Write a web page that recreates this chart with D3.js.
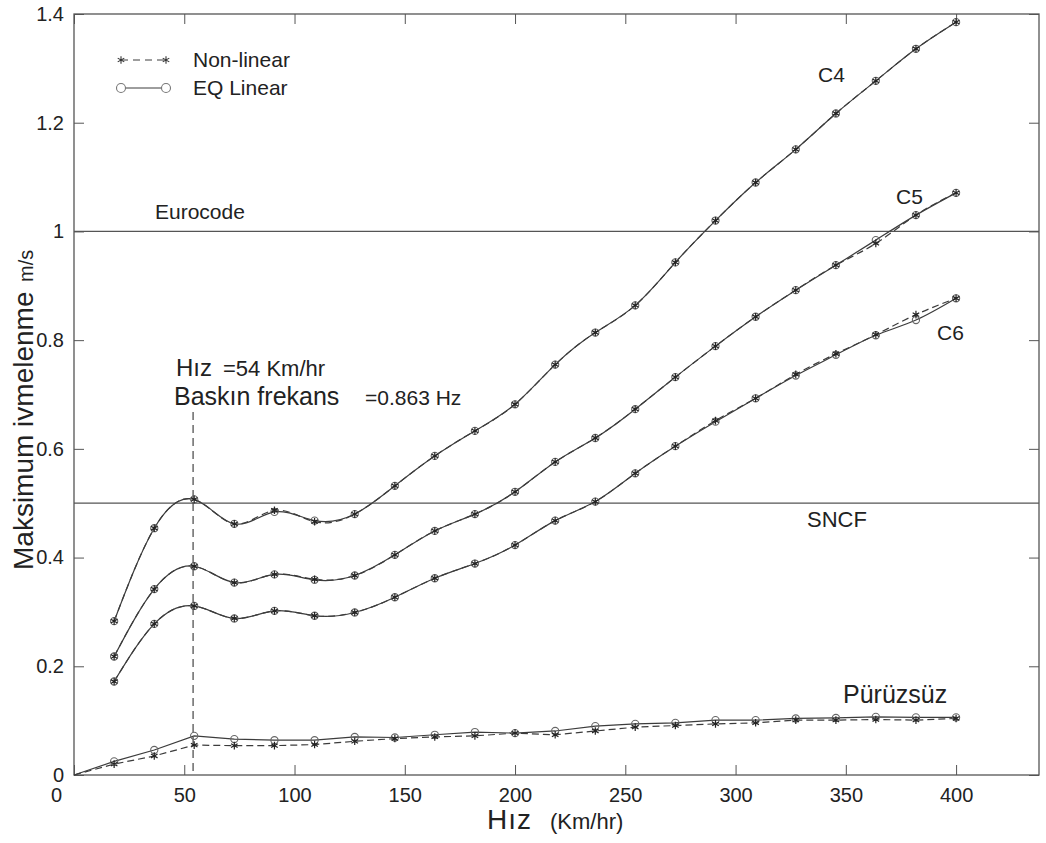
<!DOCTYPE html>
<html>
<head>
<meta charset="utf-8">
<script src="https://cdn.jsdelivr.net/npm/d3@7"></script>
<style>
    body { margin: 0; background: #fff; }
    svg text { font-family: "Liberation Sans", Arial, sans-serif; fill: #222; }
</style>
</head>
<body>
<svg id="chart" width="1046" height="843"></svg>
<script>
/* Data */
/* **** */
var speeds = [18.2, 36.4, 54.5, 72.7, 90.9, 109.1, 127.3, 145.5, 163.6, 181.8, 200,
              218.2, 236.4, 254.5, 272.7, 290.9, 309.1, 327.3, 345.5, 363.6, 381.8, 400];

var c4Linear    = [0.283, 0.454, 0.507, 0.462, 0.484, 0.468, 0.480, 0.532, 0.587, 0.633, 0.682,
                   0.755, 0.814, 0.864, 0.943, 1.020, 1.090, 1.151, 1.217, 1.277, 1.336, 1.385];
var c4NonLinear = [0.283, 0.454, 0.507, 0.462, 0.487, 0.466, 0.480, 0.532, 0.587, 0.633, 0.682,
                   0.755, 0.814, 0.864, 0.943, 1.020, 1.090, 1.151, 1.217, 1.277, 1.336, 1.385];

var c5Linear    = [0.218, 0.342, 0.384, 0.354, 0.369, 0.359, 0.367, 0.405, 0.449, 0.480, 0.521,
                   0.576, 0.620, 0.673, 0.732, 0.789, 0.843, 0.892, 0.938, 0.984, 1.030, 1.071];
var c5NonLinear = [0.218, 0.342, 0.384, 0.354, 0.369, 0.360, 0.367, 0.405, 0.449, 0.480, 0.521,
                   0.576, 0.620, 0.673, 0.732, 0.789, 0.843, 0.892, 0.938, 0.978, 1.030, 1.071];

var c6Linear    = [0.172, 0.278, 0.311, 0.288, 0.302, 0.293, 0.299, 0.327, 0.362, 0.389, 0.423,
                   0.468, 0.503, 0.555, 0.605, 0.650, 0.693, 0.735, 0.773, 0.809, 0.837, 0.877];
var c6NonLinear = [0.172, 0.278, 0.311, 0.288, 0.302, 0.293, 0.299, 0.327, 0.362, 0.389, 0.423,
                   0.468, 0.503, 0.555, 0.605, 0.652, 0.693, 0.737, 0.775, 0.810, 0.847, 0.877];

// smooth track (Pürüzsüz) starts at the origin
var smoothSpeeds    = [0, 18.2, 36.4, 54.5, 72.7, 90.9, 109.1, 127.3, 145.5, 163.6, 181.8, 200,
                       218.2, 236.4, 254.5, 272.7, 290.9, 309.1, 327.3, 345.5, 363.6, 381.8, 400];
var smoothLinear    = [0, 0.025, 0.046, 0.072, 0.066, 0.064, 0.064, 0.070, 0.069, 0.074, 0.079, 0.077,
                       0.081, 0.090, 0.094, 0.096, 0.101, 0.101, 0.104, 0.105, 0.107, 0.106, 0.106];
var smoothNonLinear = [0, 0.020, 0.035, 0.055, 0.054, 0.054, 0.056, 0.062, 0.067, 0.070, 0.072, 0.077,
                       0.074, 0.081, 0.088, 0.091, 0.094, 0.096, 0.101, 0.101, 0.102, 0.101, 0.104];

var limitNames  = ['Eurocode', 'SNCF'];
var limitValues = [1.0, 0.5];

var xTicks = [0, 50, 100, 150, 200, 250, 300, 350, 400];
var yTicks = [0, 0.2, 0.4, 0.6, 0.8, 1, 1.2, 1.4];

var resonanceSpeed = 54;


/* Setup */
/* ***** */
var svg = d3.select('#chart');
var box = { left: 74, right: 1039, top: 14, bottom: 775 };
var lineColor = '#3c3c3c';

var x = d3.scaleLinear().domain([0, 437.6]).range([box.left, box.right]);
var y = d3.scaleLinear().domain([0, 1.4]).range([box.bottom, box.top]);

var fmt = function (d) { return d3.format('~g')(d); };

// Axes with inward ticks (box style)
var xAxisG = svg.append('g')
    .attr('transform', 'translate(0,' + box.bottom + ')')
    .call(d3.axisBottom(x).tickValues(xTicks).tickSize(-10).tickPadding(13).tickFormat(fmt))
    .call(function (g) { g.select('.domain').remove(); });

svg.append('g')
    .attr('transform', 'translate(0,' + box.top + ')')
    .call(d3.axisTop(x).tickValues(xTicks).tickSize(-10).tickFormat(''))
    .call(function (g) { g.select('.domain').remove(); });

svg.append('g')
    .attr('transform', 'translate(' + box.left + ',0)')
    .call(d3.axisLeft(y).tickValues(yTicks).tickSize(-10).tickPadding(10).tickFormat(fmt))
    .call(function (g) { g.select('.domain').remove(); });

svg.append('g')
    .attr('transform', 'translate(' + box.right + ',0)')
    .call(d3.axisRight(y).tickValues(yTicks).tickSize(-10).tickFormat(''))
    .call(function (g) { g.select('.domain').remove(); });

svg.selectAll('.tick line').attr('stroke', '#555');
svg.selectAll('.tick text')
    .style('font-size', '20px')
    .style('font-family', '"Liberation Sans", Arial, sans-serif')
    .attr('fill', '#222');

// the x "0" label sits a little left of the axis corner
xAxisG.selectAll('.tick text')
    .filter(function (d) { return d === 0; })
    .attr('dx', -18);

svg.append('rect')
    .attr('x', box.left).attr('y', box.top)
    .attr('width', box.right - box.left).attr('height', box.bottom - box.top)
    .attr('fill', 'none').attr('stroke', '#555').attr('stroke-width', 1.3);

// Limit lines
limitValues.forEach(function (v) {
    svg.append('line')
        .attr('x1', box.left).attr('x2', box.right)
        .attr('y1', y(v)).attr('y2', y(v))
        .attr('stroke', '#555').attr('stroke-width', 1.3);
});

// Resonance marker line
svg.append('line')
    .attr('x1', x(resonanceSpeed)).attr('x2', x(resonanceSpeed))
    .attr('y1', 412).attr('y2', box.bottom)
    .attr('stroke', '#444').attr('stroke-width', 1.2)
    .attr('stroke-dasharray', '8,5');


/* Series */
/* ****** */
var series = [
    { xs: speeds, lin: c4Linear, non: c4NonLinear, curve: d3.curveNatural },
    { xs: speeds, lin: c5Linear, non: c5NonLinear, curve: d3.curveNatural },
    { xs: speeds, lin: c6Linear, non: c6NonLinear, curve: d3.curveNatural },
    { xs: smoothSpeeds, lin: smoothLinear, non: smoothNonLinear, curve: d3.curveLinear }
];

var star = d3.symbol().type(d3.symbolAsterisk).size(40);
var plotGroup = svg.append('g').attr('class', 'series');

series.forEach(function (s) {
    var linPts = s.xs.map(function (v, i) { return [v, s.lin[i]]; });
    var nonPts = s.xs.map(function (v, i) { return [v, s.non[i]]; });

    var line = d3.line()
        .x(function (d) { return x(d[0]); })
        .y(function (d) { return y(d[1]); })
        .curve(s.curve);

    plotGroup.append('path')
        .attr('d', line(nonPts))
        .attr('fill', 'none').attr('stroke', lineColor).attr('stroke-width', 1.2)
        .attr('stroke-dasharray', '7,4');

    plotGroup.append('path')
        .attr('d', line(linPts))
        .attr('fill', 'none').attr('stroke', lineColor).attr('stroke-width', 1.2);

    // no markers at the origin
    var markLin = linPts.filter(function (d) { return d[0] > 0; });
    var markNon = nonPts.filter(function (d) { return d[0] > 0; });

    plotGroup.selectAll(null)
        .data(markLin)
        .enter()
        .append('circle')
        .attr('cx', function (d) { return x(d[0]); })
        .attr('cy', function (d) { return y(d[1]); })
        .attr('r', 3.6)
        .attr('fill', 'none').attr('stroke', '#666').attr('stroke-width', 1.1);

    plotGroup.selectAll(null)
        .data(markNon)
        .enter()
        .append('path')
        .attr('d', star)
        .attr('transform', function (d) { return 'translate(' + x(d[0]) + ',' + y(d[1]) + ')'; })
        .attr('fill', 'none').attr('stroke', '#222').attr('stroke-width', 1.2);
});


/* Legend */
/* ****** */
var legend = svg.append('g');
legend.append('line')
    .attr('x1', 121).attr('x2', 166).attr('y1', 60).attr('y2', 60)
    .attr('stroke', lineColor).attr('stroke-dasharray', '7,5');
[121, 166].forEach(function (cx) {
    legend.append('path').attr('d', star)
        .attr('transform', 'translate(' + cx + ',60)')
        .attr('fill', 'none').attr('stroke', '#333').attr('stroke-width', 1.1);
});
legend.append('line')
    .attr('x1', 121).attr('x2', 166).attr('y1', 88).attr('y2', 88)
    .attr('stroke', lineColor);
[121, 166].forEach(function (cx) {
    legend.append('circle').attr('cx', cx).attr('cy', 88).attr('r', 4.5)
        .attr('fill', '#fff').attr('stroke', '#777').attr('stroke-width', 1.1);
});
legend.append('text').attr('x', 193).attr('y', 67).style('font-size', '21px').text('Non-linear');
legend.append('text').attr('x', 193).attr('y', 95).style('font-size', '21px').text('EQ Linear');


/* Labels */
/* ****** */
var addText = function (txt, px, py, size) {
    return svg.append('text').attr('x', px).attr('y', py).style('font-size', size + 'px').text(txt);
};

addText(limitNames[0], 155, 219, 21);
addText(limitNames[1], 807, 527, 22);
addText('C4', 818, 82, 21);
addText('C5', 896, 204, 21);
addText('C6', 937, 340, 21);
addText('Pürüzsüz', 843, 703, 25);

addText('Hız', 176, 376, 24);
addText('=54 Km/hr', 223, 376, 22);
addText('Baskın frekans', 174, 405, 25);
addText('=0.863 Hz', 365, 405, 21);

addText('Hız', 487, 829, 28).attr('letter-spacing', 1);
addText('(Km/hr)', 550, 829, 22);

svg.append('text')
    .attr('transform', 'translate(33,570) rotate(-90)')
    .style('font-size', '28px')
    .text('Maksimum ivmelenme');
svg.append('text')
    .attr('transform', 'translate(33,282) rotate(-90)')
    .style('font-size', '20px')
    .text('m/s');
</script>
</body>
</html>
